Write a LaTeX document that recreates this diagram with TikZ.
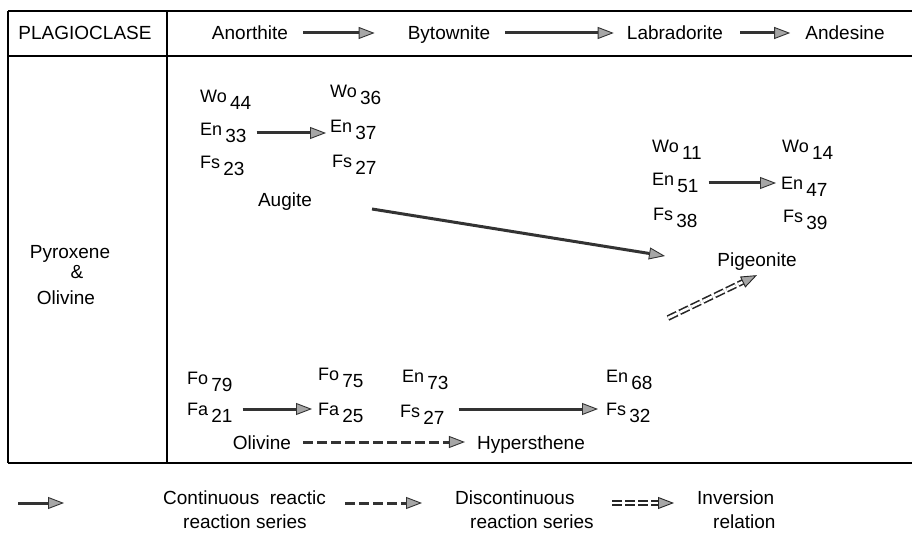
\documentclass[tikz,border=0pt]{standalone}
\usepackage{fontspec}
\setmainfont{Liberation Sans}
\usetikzlibrary{arrows.meta}
% element letters with the lowered number
\newcommand{\cmp}[2]{{\fontsize{18}{18}\selectfont #1}\,\raisebox{-7pt}{#2}}
\tikzset{
  txt/.style={font=\fontsize{19}{21}\selectfont, inner sep=0pt, anchor=base},
  cmpnode/.style={font=\fontsize{19}{21}\selectfont, inner sep=0pt, anchor=west},
  tip/.style={-{Triangle[length=16pt,width=12pt,fill=gray!70,line width=0.9pt]}},
  rxn/.style={tip, draw=black!80, line width=3pt},
  rxndash/.style={rxn, dash pattern=on 10pt off 4pt},
  inver/.style={tip, draw=black!85, line width=1.6pt, double, double distance=2.6pt, dash pattern=on 10pt off 3pt},
  frame/.style={line width=1.8pt}
}
\begin{document}
\begin{tikzpicture}[x=1pt, y=-1pt]
  \useasboundingbox (0,0) rectangle (912,534);
  % table
  \draw[frame] (8,11) -- (912,11);
  \draw[frame] (8,56) -- (912,56);
  \draw[frame] (8,463) -- (912,463);
  \draw[frame] (8,11) -- (8,463);
  \draw[frame] (167,11) -- (167,463);

  % header row
  \node[txt] (plag) at (85,40) {PLAGIOCLASE};
  \node[txt] (anor) at (250,40) {Anorthite};
  \node[txt] (bytow) at (449,40) {Bytownite};
  \node[txt] (labra) at (675,40) {Labradorite};
  \node[txt] (andes) at (845,40) {Andesine};
  \draw[rxn, shorten <=15pt, shorten >=33pt] ([yshift=7pt]anor.base east) -- ([yshift=7pt]anor.base east -| bytow.west);
  \draw[rxn, shorten <=15pt, shorten >=13pt] ([yshift=7pt]bytow.base east) -- ([yshift=7pt]bytow.base east -| labra.west);
  \draw[rxn, shorten <=17pt, shorten >=15pt] ([yshift=7pt]labra.base east) -- ([yshift=7pt]labra.base east -| andes.west);

  % row title
  \node[txt] (pyro) at (70,259) {Pyroxene};
  \node[txt] (amp) at (77,279) {\&};
  \node[txt] (oliv) at (66,305) {Olivine};

  % augite
  \node[cmpnode] (wo44) at (200,100) {\cmp{Wo}{44}};
  \node[cmpnode] (en33) at (200,133) {\cmp{En}{33}};
  \node[cmpnode] (fs23) at (200,166) {\cmp{Fs}{23}};
  \node[cmpnode] (wo36) at (330,95) {\cmp{Wo}{36}};
  \node[cmpnode] (en37) at (330,130) {\cmp{En}{37}};
  \node[cmpnode] (fs27) at (332,165) {\cmp{Fs}{27}};
  \node[txt] (augite) at (285,207) {Augite};
  \draw[rxn, shorten <=10pt, shorten >=4pt] (en33.east) -- (en33.east -| en37.west);

  % pigeonite
  \node[cmpnode] (wo11) at (652,150) {\cmp{Wo}{11}};
  \node[cmpnode] (en51) at (652,183) {\cmp{En}{51}};
  \node[cmpnode] (fs38) at (653,218) {\cmp{Fs}{38}};
  \node[cmpnode] (wo14) at (782,150) {\cmp{Wo}{14}};
  \node[cmpnode] (en47) at (781,187) {\cmp{En}{47}};
  \node[cmpnode] (fs39) at (783,220) {\cmp{Fs}{39}};
  \node[txt] (pigeon) at (757,267) {Pigeonite};
  \draw[rxn, shorten <=10pt, shorten >=5pt] (en51.east) -- (en51.east -| en47.west);

  \coordinate (augout) at (372,209);
  \coordinate (pigin) at (665,256);
  \draw[rxn] (augout) -- (pigin);

  % olivine and hypersthene
  \node[cmpnode] (fo79) at (187,382) {\cmp{Fo}{79}};
  \node[cmpnode] (fa21) at (187,413) {\cmp{Fa}{21}};
  \node[cmpnode] (fo75) at (318,378) {\cmp{Fo}{75}};
  \node[cmpnode] (fa25) at (318,413) {\cmp{Fa}{25}};
  \node[cmpnode] (en73) at (402,380) {\cmp{En}{73}};
  \node[cmpnode] (fs27b) at (400,415) {\cmp{Fs}{27}};
  \node[cmpnode] (en68) at (606,380) {\cmp{En}{68}};
  \node[cmpnode] (fs32) at (606,413) {\cmp{Fs}{32}};
  \draw[rxn, shorten <=10pt, shorten >=6pt] ([yshift=4pt]fa21.east) -- ([yshift=4pt]fa21.east -| fa25.west);
  \draw[rxn, shorten <=14pt, shorten >=8pt] ([yshift=4pt]fa21.east -| fs27b.east) -- ([yshift=4pt]fa21.east -| fs32.west);

  \node[txt] (olivb) at (262,449) {Olivine};
  \node[txt] (hyper) at (531,449) {Hypersthene};
  \draw[rxndash, shorten <=12pt, shorten >=12pt] ([yshift=7pt]olivb.base east) -- ([yshift=7pt]olivb.base east -| hyper.west);

  \coordinate (invout) at (668,318);
  \draw[inver] (invout) -- ([yshift=-4pt]pigeon.south);

  % legend
  \coordinate (k1a) at (18,503);
  \coordinate (k1b) at (64,503);
  \coordinate (k2a) at (345,503);
  \coordinate (k2b) at (422,503);
  \coordinate (k3a) at (612,503);
  \coordinate (k3b) at (674,503);
  \draw[rxn] (k1a) -- (k1b);
  \draw[rxndash] (k2a) -- (k2b);
  \draw[inver] (k3a) -- (k3b);
  \node[txt, anchor=base west] (cont1) at (163,504) {Continuous\ \ reactic};
  \node[txt, anchor=base west] (cont2) at (183,528) {reaction series};
  \node[txt, anchor=base west] (disc1) at (455,504) {Discontinuous};
  \node[txt, anchor=base west] (disc2) at (470,528) {reaction series};
  \node[txt, anchor=base west] (inv1) at (697,504) {Inversion};
  \node[txt, anchor=base west] (inv2) at (713,528) {relation};
\end{tikzpicture}
\end{document}
